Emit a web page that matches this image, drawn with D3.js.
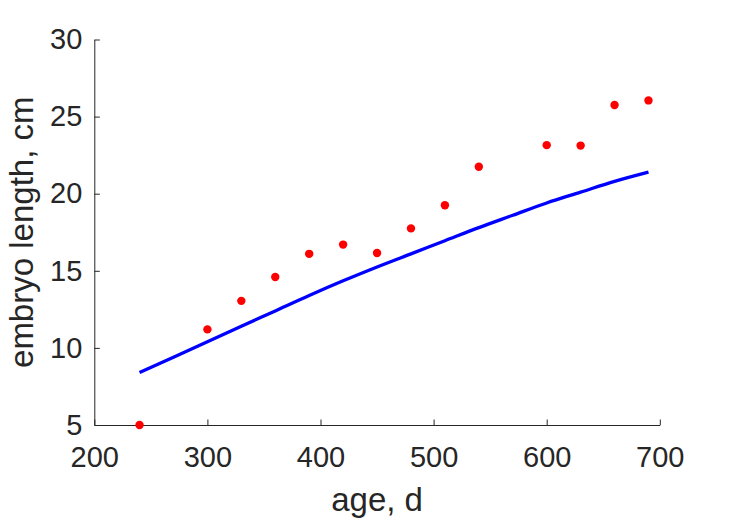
<!DOCTYPE html>
<html>
<head>
<meta charset="utf-8">
<script src="https://cdn.jsdelivr.net/npm/d3@7"></script>
<style>
  html, body { margin: 0; padding: 0; background: #fff; }
  text { font-family: "Liberation Sans", Arial, Helvetica, sans-serif; fill: #262626; }
</style>
</head>
<body>
<svg id="chart" width="729" height="521"></svg>
<script>
// Observed data (red points)
const obsAge = [240, 300, 330, 360, 390, 420, 450, 480, 510, 540, 600, 630, 660, 690];
const obsLength = [5.0, 11.2, 13.05, 14.6, 16.1, 16.7, 16.15, 17.75, 19.25, 21.75, 23.15, 23.12, 25.75, 26.05];

// Model curve (blue line)
const fitAge = [240, 270, 300, 330, 360, 390, 420, 450, 480, 510, 540, 570, 600, 630, 660, 690];
const fitLength = [8.4, 9.4, 10.4, 11.4, 12.4, 13.4, 14.35, 15.25, 16.1, 16.95, 17.8, 18.6, 19.4, 20.1, 20.8, 21.4];

const xTicks = [200, 300, 400, 500, 600, 700];
const yTicks = [5, 10, 15, 20, 25, 30];

(function () {
const svg = d3.select("#chart");
const mLeft = 94.3, mRight = 659.8, mTop = 39.5, mBottom = 425;

const x = d3.scaleLinear().domain([200, 700]).range([mLeft, mRight]);
const y = d3.scaleLinear().domain([5, 30]).range([mBottom, mTop]);

const axisColor = "#262626";

const xAxis = svg.append("g").attr("transform", `translate(0,${mBottom})`)
  .call(d3.axisBottom(x).tickValues(xTicks).tickSize(-5.5).tickPadding(12).tickSizeOuter(0).tickFormat(d3.format("d")));
const yAxis = svg.append("g").attr("transform", `translate(${mLeft},0)`)
  .call(d3.axisLeft(y).tickValues(yTicks).tickSize(-5.5).tickPadding(12).tickSizeOuter(0).tickFormat(d3.format("d")));

[xAxis, yAxis].forEach(g => {
  g.selectAll("path.domain").attr("stroke", axisColor).attr("stroke-width", 1);
  g.selectAll(".tick line").attr("stroke", axisColor).attr("stroke-width", 1);
  g.selectAll(".tick text").attr("fill", axisColor)
    .style("font-size", "29px").style("font-family", "'Liberation Sans', Arial, sans-serif");
});
xAxis.selectAll(".tick text").attr("dy", "0.71em").attr("y", 21);
yAxis.selectAll(".tick text").attr("x", -12);

const line = d3.line().curve(d3.curveMonotoneX).x((d, i) => x(fitAge[i])).y(d => y(d));
svg.append("path").datum(fitLength)
  .attr("d", line)
  .attr("fill", "none").attr("stroke", "#0000ff").attr("stroke-width", 3.3)
  .attr("stroke-linejoin", "round");

svg.append("g").selectAll("circle").data(obsLength).join("circle")
  .attr("cx", (d, i) => x(obsAge[i]))
  .attr("cy", d => y(d))
  .attr("r", 4.2)
  .attr("fill", "#ff0000");

svg.append("text")
  .attr("x", (mLeft + mRight) / 2).attr("y", 511)
  .attr("text-anchor", "middle")
  .style("font-size", "33px")
  .text("age, d");

svg.append("text")
  .attr("transform", `translate(33,${(mTop + mBottom) / 2}) rotate(-90)`)
  .attr("text-anchor", "middle")
  .style("font-size", "33px")
  .text("embryo length, cm");
})();
</script>
</body>
</html>
